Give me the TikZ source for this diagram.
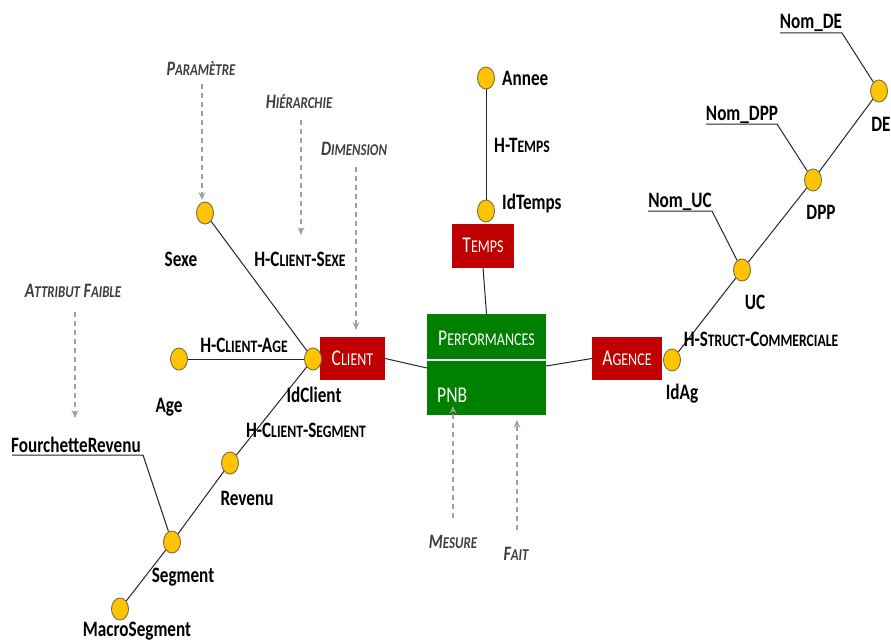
\documentclass[tikz,border=0pt]{standalone}
\usepackage{fontspec}
\usetikzlibrary{shapes.geometric,arrows.meta,calc}
\setmainfont{Carlito}[FakeStretch=0.78]
\definecolor{dimred}{RGB}{192,0,0}
\definecolor{factgreen}{RGB}{0,128,0}
\definecolor{levelfill}{RGB}{255,196,0}
\definecolor{leveledge}{RGB}{120,110,70}
\definecolor{notegrey}{RGB}{160,160,160}
\definecolor{notetext}{RGB}{62,62,62}
% small capitals built from reduced upper-case letters
\newcommand\lsc[1]{{\fontsize{17.5}{17.5}\selectfont #1}}
\newcommand\bsc[1]{{\fontsize{18}{18}\selectfont #1}}
\newcommand\nsc[1]{{\fontsize{16.5}{16.5}\selectfont #1}}
\begin{document}
\begin{tikzpicture}[x=1pt,y=-1pt,
  level/.style={ellipse, draw=leveledge, line width=0.9pt, fill=levelfill,
    minimum width=17pt, minimum height=22pt, inner sep=0pt},
  attr/.style={font=\fontsize{22}{22}\selectfont\bfseries, inner sep=0pt, anchor=base},
  boxtext/.style={text=white, inner sep=0pt, font=\fontsize{22.5}{22.5}\selectfont},
  dimbox/.style={boxtext, fill=dimred},
  factbox/.style={fill=factgreen, inner sep=0pt},
  link/.style={draw=black!85, line width=1pt},
  note/.style={font=\fontsize{20.5}{20.5}\selectfont\bfseries\itshape,
    text=notetext, inner sep=0pt, anchor=base},
  pointer/.style={draw=notegrey, line width=1.2pt, dash pattern=on 5pt off 4pt,
    -{Stealth[length=8pt,width=7pt,inset=3pt]}}]
\useasboundingbox (0,0) rectangle (891,642);

% fact and dimension tables
\node[factbox, minimum width=119pt, minimum height=101pt] (perf) at (486.5,364.5) {};
\draw[white, line width=1.4pt] (perf.west |- 0,360) coordinate (divl) -- (perf.east |- 0,360) coordinate (divr);
\node[boxtext, anchor=base] (perftitle) at (486.5,345) {P\bsc{ERFORMANCES}};
\node[boxtext, anchor=base west] (pnb) at (437,402) {PNB};
\node[dimbox, minimum width=65pt, minimum height=43pt] (client) at (352.5,358.5) {C\bsc{LIENT}};
\node[dimbox, minimum width=62pt, minimum height=44pt] (temps) at (483,245.5) {T\bsc{EMPS}};
\node[dimbox, minimum width=70pt, minimum height=43pt] (agence) at (627,358.5) {A\bsc{GENCE}};

% hierarchy levels
\node[level] (sexe) at (205,213) {};
\node[level] (age) at (179,359) {};
\node[level] (idclient) at (313,359) {};
\node[level] (revenu) at (230,463) {};
\node[level] (segment) at (172,542) {};
\node[level] (macro) at (120,609) {};
\node[level] (annee) at (486,78) {};
\node[level] (idtemps) at (486,211) {};
\node[level] (idag) at (672,360) {};
\node[level] (uc) at (742,270) {};
\node[level] (dpp) at (813,180) {};
\node[level] (de) at (879,91) {};

% connectors
\draw[link] (client.east) -- ($(perf.west)+(0,3.5)$);
\draw[link] ($(perf.east)+(0,1.5)$) -- (agence.west);
\draw[link] (temps.south) -- (perf.north);
\draw[link] (annee) -- (idtemps);
\draw[link] (sexe) -- (idclient);
\draw[link] (age) -- (idclient);
\draw[link] (idclient) -- (revenu);
\draw[link] (revenu) -- (segment);
\draw[link] (segment) -- (macro);
\draw[link] (idag) -- (uc);
\draw[link] (uc) -- (dpp);
\draw[link] (dpp) -- (de);

% weak attributes with their underlines
\coordinate (fra) at (12,455);
\coordinate (frb) at (143,455);
\draw[link] (fra) -- (frb) -- (segment);
\coordinate (uca) at (648,211);
\coordinate (ucb) at (712,211);
\draw[link] (uca) -- (ucb) -- (uc);
\coordinate (dppa) at (706,124);
\coordinate (dppb) at (777,124);
\draw[link] (dppa) -- (dppb) -- (dpp);
\coordinate (dea) at (780,33);
\coordinate (deb) at (842,33);
\draw[link] (dea) -- (deb) -- (de);

% level and hierarchy labels
\node[attr] (lsexe) at (181,266) {Sexe};
\node[attr] (lhsexe) at (300,266) {H-C\lsc{LIENT}-S\lsc{EXE}};
\node[attr] (lhage) at (244,352) {H-C\lsc{LIENT}-A\lsc{GE}};
\node[attr] (lage) at (169,412) {Age};
\node[attr] (lidclient) at (314,402) {IdClient};
\node[attr] (lhseg) at (306,437) {H-C\lsc{LIENT}-S\lsc{EGMENT}};
\node[attr] (lfour) at (76,452) {FourchetteRevenu};
\node[attr] (lrevenu) at (247,505) {Revenu};
\node[attr] (lsegment) at (183,582) {Segment};
\node[attr] (lmacro) at (137,636) {MacroSegment};
\node[attr, anchor=base west] (lannee) at (502,85) {Annee};
\node[attr] (lhtemps) at (522,152) {H-T\lsc{EMPS}};
\node[attr, anchor=base west] (lidtemps) at (502,209) {IdTemps};
\node[attr] (lnomde) at (811,29) {Nom\_DE};
\node[attr] (lde) at (881,131) {DE};
\node[attr] (lnomdpp) at (742,120) {Nom\_DPP};
\node[attr] (ldpp) at (821,219) {DPP};
\node[attr] (lnomuc) at (680,207) {Nom\_UC};
\node[attr] (luc) at (755,309) {UC};
\node[attr] (lhstruct) at (761,346) {H-S\lsc{TRUCT}-C\lsc{OMMERCIALE}};
\node[attr] (lidag) at (682,399) {IdAg};

% annotations
\node[note] (nparam) at (201,75) {P\nsc{ARAMÈTRE}};
\node[note] (nhier) at (299,108) {H\nsc{IÉRARCHIE}};
\node[note] (ndim) at (354,155) {D\nsc{IMENSION}};
\node[note] (nattr) at (73,297) {A\nsc{TTRIBUT} F\nsc{AIBLE}};
\node[note] (nmes) at (453,548) {M\nsc{ESURE}};
\node[note] (nfait) at (516,560) {F\nsc{AIT}};
\coordinate (pparam) at (202,200);
\coordinate (phier) at (301,235);
\coordinate (pdim) at (356,330);
\coordinate (pattr) at (75,418);
\coordinate (pmes) at (453,406);
\coordinate (pfait) at (517,420);
\draw[pointer] (202,84) -- (pparam);
\draw[pointer] (301,120) -- (phier);
\draw[pointer] (356,167) -- (pdim);
\draw[pointer] (75,312) -- (pattr);
\draw[pointer] (453,518) -- (pmes);
\draw[pointer] (517,530) -- (pfait);
\end{tikzpicture}
\end{document}
